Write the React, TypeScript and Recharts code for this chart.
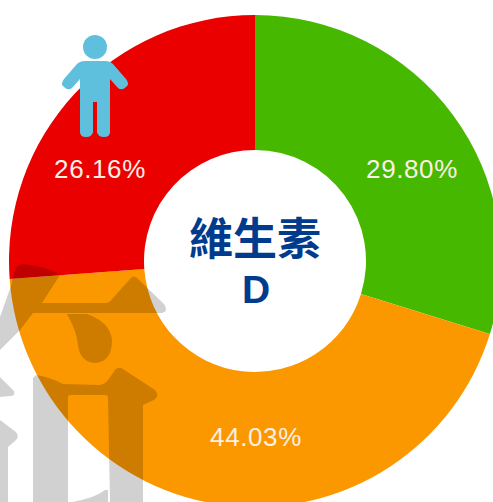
import { PieChart, Pie, Cell } from 'recharts';

const categories = ['green', 'orange', 'red'];
const values = [29.8, 44.03, 26.16];
const valueLabels = ['29.80%', '44.03%', '26.16%'];
const colors = ['#47B800', '#FB9800', '#EB0000'];
const labelSpots = [
  { x: 412, y: 178 },
  { x: 256, y: 446 },
  { x: 100, y: 178 },
];

const data = categories.map((name, i) => ({ name, value: values[i] }));

// big grey character on top of the ring, see-through so the colours show under it
const markShapes = [
  // left falling stroke and top bar
  'M0 317 L12 283 Q14 263 24 264 Q45 266 60 275 L42 303 L105 303 Q110 303 113 298 L130 279 Q133 275 137 278 L164 304 Q169 311 162 313 L33 313 L20 330 L0 350 Z',
  // drop under the bar
  'M67 314 L87 314 Q110 322 112 340 Q112 362 95 363 Q80 362 78 345 Q77 332 67 314 Z',
  // second bar and the two legs
  'M36 375 Q50 377 63 384 L100 385 Q105 384 108 380 L115 370 Q118 366 123 369 L155 390 Q160 396 154 400 L143 405 L143 502 L110 502 L108 398 Q108 395 105 395 L70 395 Q68 395 68 398 L68 502 L33 502 L33 378 Z',
  // hook at the bottom
  'M72 502 Q95 498 105 490 L108 490 L108 502 Z',
  // bits on the far left
  'M0 377 L14 391 Q16 396 10 396 L0 397 Z',
  'M0 420 L16 432 Q20 437 15 441 L8 447 L8 502 L0 502 Z',
];

export default function App() {
  return (
    <div style={{ position: 'absolute', left: 0, top: 0, width: 493, height: 502, overflow: 'hidden', background: '#fff' }}>
      <PieChart width={493} height={502} margin={{ top: 0, right: 0, bottom: 0, left: 0 }}>
        <Pie
          data={data}
          dataKey="value"
          cx={255}
          cy={261}
          innerRadius={111}
          outerRadius={246}
          startAngle={90}
          endAngle={-270}
          stroke="none"
          isAnimationActive={false}
          labelLine={false}
          label={false}
        >
          {data.map((d, i) => (
            <Cell key={d.name} fill={colors[i]} />
          ))}
        </Pie>
      </PieChart>
      <svg width={493} height={502} style={{ position: 'absolute', left: 0, top: 0 }}>
        {markShapes.map((d, i) => (
          <path key={i} d={d} fill="#000" fillOpacity={0.18} />
        ))}
        {valueLabels.map((t, i) => (
          <text
            key={t}
            x={labelSpots[i].x}
            y={labelSpots[i].y}
            textAnchor="middle"
            fill="#FBEFE6"
            style={{ fontFamily: 'Liberation Sans', fontSize: 26, letterSpacing: 0.6 }}
          >
            {t}
          </text>
        ))}
        <text x={255} y={255} textAnchor="middle" fill="#003B8E" style={{ fontFamily: 'Noto Sans CJK TC', fontWeight: 700, fontSize: 44 }}>
          維生素
        </text>
        <text x={256} y={303} textAnchor="middle" fill="#003B8E" style={{ fontFamily: 'Liberation Sans', fontWeight: 700, fontSize: 39 }}>
          D
        </text>
        <g fill="#5FC0DE" stroke="none">
          <circle cx={95} cy={47} r={12} />
          <path d="M85 61 H105 Q110 61 113 64 L126 79 Q130 84 126 87 Q122 91 118 88 L110 79 V132 Q110 137 104 137 Q98 137 97 132 V102 H93 V132 Q92 137 86 137 Q80 137 80 132 V79 L72 88 Q68 91 64 87 Q60 84 64 79 L77 64 Q80 61 85 61 Z" />
        </g>
      </svg>
    </div>
  );
}
